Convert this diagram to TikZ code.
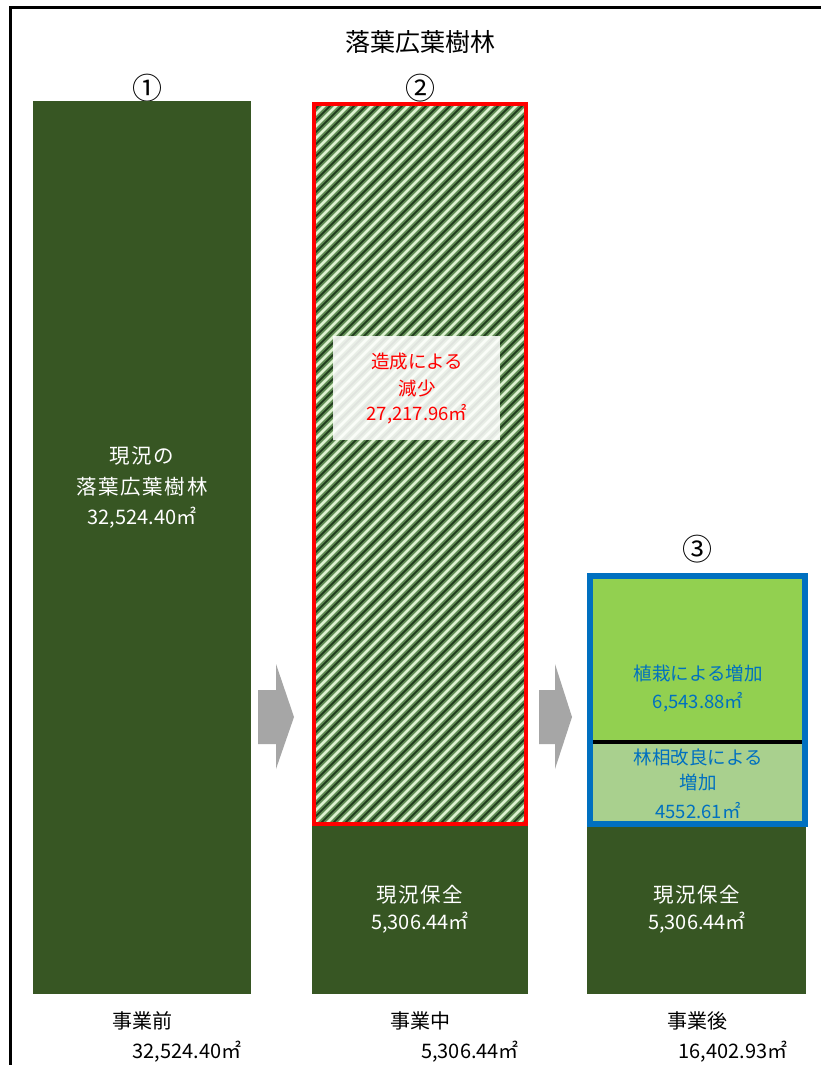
\documentclass[tikz,border=0pt]{standalone}
\usepackage{fontspec}
\newfontfamily\jp{Noto Sans CJK JP}
\newfontfamily\jpw[LetterSpace=8]{Noto Sans CJK JP}
\definecolor{dkgreen}{HTML}{375623}
\definecolor{ltgreen}{HTML}{92D050}
\definecolor{paleg}{HTML}{A9D08E}
\definecolor{blu}{HTML}{0070C0}
\definecolor{arrowgray}{HTML}{A6A6A6}
\definecolor{hatchdark}{HTML}{1F3A1C}
\definecolor{hatchmid}{HTML}{5E8A52}
\definecolor{hatchlight}{HTML}{DDF2D0}
\tikzset{
  wt/.style={font=\jp\fontsize{20}{22}\selectfont, text=white, inner sep=0pt},
  wtk/.style={font=\jpw\fontsize{20.5}{22}\selectfont, text=white, inner sep=0pt},
  rt/.style={font=\jp\fontsize{18.5}{22}\selectfont, text=red, inner sep=0pt},
  bt/.style={font=\jp\fontsize{18.5}{22}\selectfont, text=blu, inner sep=0pt},
  kt/.style={font=\jp\fontsize{20}{22}\selectfont, text=black, inner sep=0pt},
  circ/.style={font=\jp\fontsize{30}{32}\selectfont, text=black, inner sep=0pt},
  blockarrow/.style={fill=arrowgray},
}
\begin{document}
\begin{tikzpicture}[x=1pt,y=-1pt]
\useasboundingbox (0,0) rectangle (820,1065);
\fill[white] (0,0) rectangle (820,1065);
% frame
\draw[line width=2.2] (10.5,1066) -- (10.5,7.5) -- (821,7.5);
% title
\node[font=\jp\fontsize{25}{28}\selectfont, inner sep=0pt] (title) at (420,42) {落葉広葉樹林};
% circled numbers
\node[circ] (n1) at (147,88) {①};
\node[circ] (n2) at (420,88) {②};
\node[circ] (n3) at (697,549) {③};

% column 1
\fill[dkgreen] (33,101) rectangle (251,994);
\node[wtk] (c1a) at (142,456) {現況の};
\node[wtk] (c1b) at (142,487) {落葉広葉樹林};
\node[wt] (c1c) at (142,518) {32,524.40㎡};

% column 2
\fill[dkgreen] (312,820) rectangle (528,994);
\begin{scope}
  \clip (314,104) rectangle (526,824);
  \fill[hatchdark] (314,104) rectangle (526,824);
  \foreach \i in {-726,-714,...,230} {
    \draw[hatchmid, line width=6.5] (314+\i,830) -- ++(740,-740);
    \draw[hatchlight, line width=2.6] (314+\i,830) -- ++(740,-740);
  }
\end{scope}
\draw[red, line width=4.6] (314,104) rectangle (526,824);
\fill[white, opacity=0.86] (333,336) rectangle (500,440);
\node[rt] (r1) at (417,362) {造成による};
\node[rt] (r2) at (417,388) {減少};
\node[rt] (r3) at (417,414) {27,217.96㎡};
\node[wtk] (c2a) at (420,895) {現況保全};
\node[wt] (c2b) at (420,923) {5,306.44㎡};

% column 3
\fill[dkgreen] (587,820) rectangle (806,994);
\fill[ltgreen] (590,576) rectangle (805,742);
\fill[paleg] (590,742) rectangle (805,824);
\draw[line width=4] (593,742) -- (802,742);
\draw[blu, line width=5.5] (590,576) rectangle (805,824);
\node[bt] (b1) at (698,673) {植栽による増加};
\node[bt] (b2) at (698,702) {6,543.88㎡};
\node[bt] (b3) at (698,757) {林相改良による};
\node[bt] (b4) at (698,782) {増加};
\node[bt] (b5) at (698,811) {4552.61㎡};
\node[wtk] (c3a) at (697,895) {現況保全};
\node[wt] (c3b) at (697,923) {5,306.44㎡};

% block arrows
\fill[blockarrow] (258,690) -- (276,690) -- (276,664) -- (294,717) -- (276,769) -- (276,744) -- (258,744) -- cycle;
\fill[blockarrow] (539,690) -- (555,690) -- (555,664) -- (572,717) -- (555,769) -- (555,744) -- (539,744) -- cycle;

% bottom labels
\node[kt] (l1) at (142,1021) {事業前};
\node[kt] (l2) at (420,1021) {事業中};
\node[kt] (l3) at (697,1021) {事業後};
\node[kt] (v1) at (187,1052) {32,524.40㎡};
\node[kt] (v2) at (470,1052) {5,306.44㎡};
\node[kt] (v3) at (733,1052) {16,402.93㎡};
\end{tikzpicture}
\end{document}
